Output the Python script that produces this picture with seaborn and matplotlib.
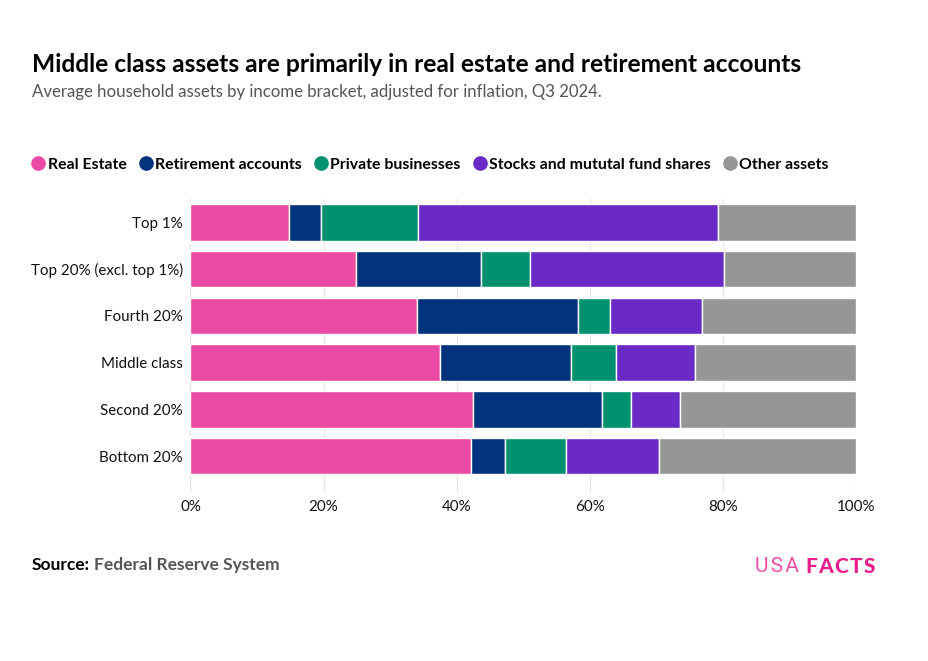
import matplotlib
matplotlib.use("Agg")
import matplotlib.pyplot as plt
import pandas as pd
import seaborn as sns
from matplotlib.lines import Line2D

# asset shares by income bracket (%)
brackets = ["Top 1%", "Top 20% (excl. top 1%)", "Fourth 20%", "Middle class", "Second 20%", "Bottom 20%"]
real_estate = [14.8, 24.9, 34.0, 37.5, 42.4, 42.1]
retirement = [4.8, 18.8, 24.2, 19.7, 19.4, 5.1]
private_biz = [14.6, 7.3, 4.8, 6.7, 4.4, 9.2]
stocks = [45.1, 29.2, 13.8, 11.9, 7.3, 14.0]
other = [20.7, 19.8, 23.2, 24.2, 26.5, 29.6]

asset_names = ["Real Estate", "Retirement accounts", "Private businesses",
               "Stocks and mututal fund shares", "Other assets"]
colors = ["#EA4AA3", "#01337C", "#00926F", "#6A2AC5", "#969696"]
x_ticks = [0, 20, 40, 60, 80, 100]

sns.set_theme(style="white")
plt.rcParams["font.family"] = ["Lato", "DejaVu Sans"]

# long table for histplot
rows = []
for name, vals in zip(asset_names, [real_estate, retirement, private_biz, stocks, other]):
    for b, v in zip(brackets, vals):
        rows.append({"bracket": b, "asset": name, "share": v})
df = pd.DataFrame(rows)
df["bracket"] = pd.Categorical(df["bracket"], categories=brackets)

fig = plt.figure(figsize=(9.29, 6.61), dpi=100)
ax = fig.add_axes([190.5 / 929, 1 - 492 / 661, (856 - 190.5) / 929, (492 - 199) / 661])
ax.grid(axis="x", color="#E6E6E6", linewidth=1)
ax.set_axisbelow(True)

# histplot stacks the last hue first, so hand it the reversed order
sns.histplot(data=df, y="bracket", weights="share", hue="asset", hue_order=asset_names[::-1],
             multiple="stack", palette=colors[::-1], shrink=0.78, alpha=1, discrete=True,
             edgecolor="white", linewidth=1, legend=False, ax=ax)

ax.set_xlim(0, 100)
ax.set_ylim(5.77, -0.50)
ax.set_xticks(x_ticks)
ax.set_xticklabels([f"{t}%" for t in x_ticks])
ax.set_yticks(range(len(brackets)))
ax.set_yticklabels(brackets)
ax.set_xlabel("")
ax.set_ylabel("")
ax.tick_params(axis="both", length=0, labelsize=10.9, labelcolor="#111111")
ax.tick_params(axis="y", pad=5.5)
ax.tick_params(axis="x", pad=5.5)
sns.despine(ax=ax, left=True, bottom=True)

fig.text(32 / 929, 1 - 65 / 661, "Middle class assets are primarily in real estate and retirement accounts",
         fontsize=17.65, fontweight="bold", color="black", va="center")
fig.text(32 / 929, 1 - 92.5 / 661, "Average household assets by income bracket, adjusted for inflation, Q3 2024.",
         fontsize=12.1, color="#555555", va="center")

handles = [Line2D([], [], linestyle="", marker="o", markersize=9.5, color=c) for c in colors]
leg = fig.legend(handles, asset_names, ncol=5, loc="center left", bbox_to_anchor=(30.5 / 929, 1 - 164.5 / 661),
                 frameon=False, handlelength=1, handletextpad=0.08, columnspacing=0.72, borderpad=0,
                 borderaxespad=0, prop={"weight": "bold", "size": 11.4})
for t in leg.get_texts():
    t.set_color("black")

fig.text(32 / 929, 1 - 570 / 661, "Source:", fontsize=12.5, fontweight="bold", color="black", va="baseline")
fig.text(94 / 929, 1 - 570 / 661, "Federal Reserve System", fontsize=12.5, fontweight="bold", color="#555555", va="baseline")

# logo as text, hair spaces to open up the tracking
fig.text(755 / 929, 1 - 566.5 / 661, "U\u200aS\u200aA", fontsize=15, fontweight="normal", color="#EE4FA6", va="center",
         family=["Roboto", "DejaVu Sans"])
fig.text(806 / 929, 1 - 566.5 / 661, "F\u200aA\u200aC\u200aT\u200aS", fontsize=15, fontweight="black", color="#E91E8C", va="center")

fig.savefig("out.png", dpi=100, facecolor="white")
